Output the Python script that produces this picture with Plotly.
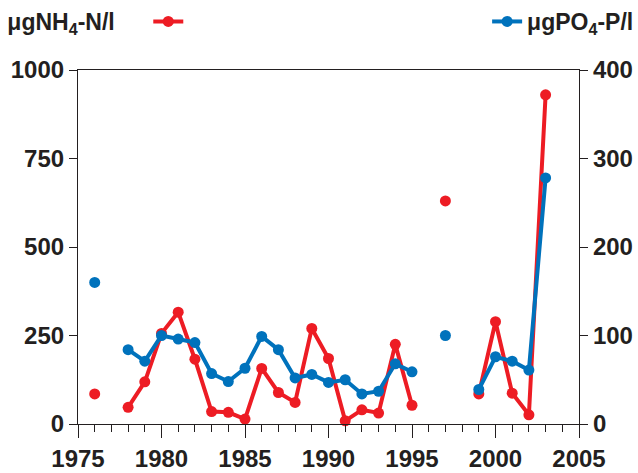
import plotly.graph_objects as go

years = list(range(1976, 2004))
nh4 = [85, None, 47, 119, 256, 316, 183, 35, 33, 14, 157, 89, 61, 270, 185, 9, 40, 31, 225, 53,
       None, 630, None, 85, 289, 87, 26, 930]
po4 = [160, None, 84, 71, 100, 96, 92, 57, 48, 63, 99, 84, 52, 56, 47, 50, 34, 37, 68, 59,
       None, 100, None, 39, 76, 71, 61, 278]

left_ticks = [0, 250, 500, 750, 1000]
right_ticks = [0, 100, 200, 300, 400]
x_ticks = [1975, 1980, 1985, 1990, 1995, 2000, 2005]

RED = "#ED1C24"
BLUE = "#0072BC"
INK = "#231F20"
FONT = "Liberation Sans"

fig = go.Figure()
fig.add_trace(go.Scatter(
    x=years, y=nh4, mode="lines+markers", name=" ",
    line=dict(color=RED, width=4), marker=dict(color=RED, size=11),
    connectgaps=False, cliponaxis=False, legend="legend", yaxis="y"))
fig.add_trace(go.Scatter(
    x=years, y=po4, mode="lines+markers", name="\u03bcgPO<sub>4</sub>-P/l",
    line=dict(color=BLUE, width=4), marker=dict(color=BLUE, size=11),
    connectgaps=False, cliponaxis=False, legend="legend2", yaxis="y2"))

axis_font = dict(family=FONT, size=24, color=INK, weight="bold")
fig.update_layout(
    width=638, height=473,
    margin=dict(l=78, r=59, t=70, b=49, autoexpand=False),
    paper_bgcolor="white", plot_bgcolor="white",
    font=dict(family=FONT, size=23, color=INK),
    showlegend=True,
    xaxis=dict(range=[1975, 2005], tickmode="array", tickvals=x_ticks,
               ticks="outside", ticklen=13, tickwidth=1.2, tickcolor=INK,
               minor=dict(tickmode="array", tickvals=list(range(1975, 2006)),
                          ticks="outside", ticklen=7, tickwidth=1.2, tickcolor=INK),
               showline=True, linecolor=INK, linewidth=1.2, mirror=True, automargin=False,
               showgrid=False, zeroline=False, tickfont=axis_font),
    yaxis=dict(range=[0, 1000], tickvals=left_ticks, automargin=False,
               ticks="outside", ticklen=8, tickwidth=1.2, tickcolor=INK,
               showline=True, linecolor=INK, linewidth=1.2,
               showgrid=False, zeroline=False, tickfont=axis_font),
    yaxis2=dict(range=[0, 400], tickvals=right_ticks, automargin=False,
                overlaying="y", side="right",
                ticks="outside", ticklen=8, tickwidth=1.2, tickcolor=INK,
                showline=True, linecolor=INK, linewidth=1.2,
                showgrid=False, zeroline=False, tickfont=axis_font),
    legend=dict(x=-0.145, y=1.0, xref="paper", yref="container", xanchor="left", yanchor="top",
                orientation="h", bgcolor="rgba(0,0,0,0)",
                title=dict(text="\u03bcgNH<sub>4</sub>-N/l\u00a0\u00a0\u00a0\u00a0", side="left",
                           font=dict(size=23, weight="bold")),
                font=dict(size=23, weight="bold"), itemwidth=30),
    legend2=dict(x=1.12, y=1.0, xref="paper", yref="container", xanchor="right", yanchor="top",
                 orientation="h", bgcolor="rgba(0,0,0,0)", font=dict(size=23, weight="bold"),
                 itemwidth=30),
)

fig.write_html("out.html", config={"displayModeBar": False},
               post_script="document.body.style.margin='0px';")
